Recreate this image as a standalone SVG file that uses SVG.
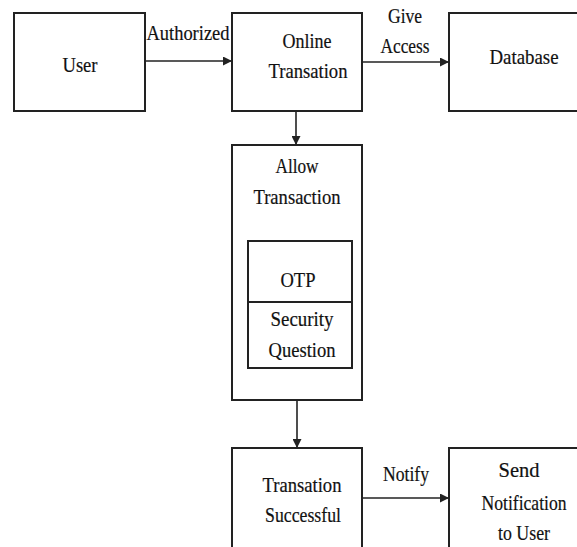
<svg xmlns="http://www.w3.org/2000/svg" width="577" height="547" viewBox="0 0 577 547">
  <style>
    .box { fill: #ffffff; stroke: #222222; stroke-width: 2; }
    .edge { fill: none; stroke: #222222; stroke-width: 1.6; }
    .lbl { font-family: 'Liberation Serif', 'DejaVu Serif', 'Times New Roman', serif; font-size: 21px; fill: #111111; text-anchor: middle; stroke: #111111; stroke-width: 0.2; }
  </style>
  <defs>
    <marker id="arrow" viewBox="0 0 10 10" refX="10" refY="5" markerWidth="9" markerHeight="9" markerUnits="userSpaceOnUse" orient="auto">
      <path d="M0,0 L10,5 L0,10 z" fill="#222222"/>
    </marker>
  </defs>
  <rect width="577" height="547" fill="#ffffff"/>

  <g id="connectors">
    <line class="edge" x1="145" y1="61" x2="232" y2="61" marker-end="url(#arrow)"/>
    <line class="edge" x1="362" y1="62" x2="449" y2="62" marker-end="url(#arrow)"/>
    <line class="edge" x1="296" y1="111" x2="296" y2="145" marker-end="url(#arrow)"/>
    <line class="edge" x1="297" y1="400" x2="297" y2="448" marker-end="url(#arrow)"/>
    <line class="edge" x1="362" y1="498" x2="449" y2="498" marker-end="url(#arrow)"/>
    <text class="lbl" x="188" y="40" textLength="83" lengthAdjust="spacingAndGlyphs">Authorized</text>
    <text class="lbl" x="405" y="23" textLength="34" lengthAdjust="spacingAndGlyphs">Give</text>
    <text class="lbl" x="405" y="53" textLength="49" lengthAdjust="spacingAndGlyphs">Access</text>
    <text class="lbl" x="406" y="481" textLength="46" lengthAdjust="spacingAndGlyphs">Notify</text>
  </g>

  <g id="user">
    <rect class="box" x="14" y="13" width="131" height="98"/>
    <text class="lbl" x="80" y="72" textLength="35" lengthAdjust="spacingAndGlyphs">User</text>
  </g>

  <g id="online-transation">
    <rect class="box" x="232" y="13" width="130" height="98"/>
    <text class="lbl" x="307" y="48" textLength="49" lengthAdjust="spacingAndGlyphs">Online</text>
    <text class="lbl" x="308" y="78" textLength="79" lengthAdjust="spacingAndGlyphs">Transation</text>
  </g>

  <g id="database">
    <rect class="box" x="449" y="13" width="131" height="98"/>
    <text class="lbl" x="524" y="64" textLength="69" lengthAdjust="spacingAndGlyphs">Database</text>
  </g>

  <g id="allow-transaction">
    <rect class="box" x="232" y="145" width="130" height="255"/>
    <text class="lbl" x="297" y="173" textLength="43" lengthAdjust="spacingAndGlyphs">Allow</text>
    <text class="lbl" x="297" y="204" textLength="87" lengthAdjust="spacingAndGlyphs">Transaction</text>
  </g>

  <g id="otp">
    <rect class="box" x="248" y="241" width="104" height="61"/>
    <text class="lbl" x="298" y="287" textLength="35" lengthAdjust="spacingAndGlyphs">OTP</text>
  </g>

  <g id="security-question">
    <rect class="box" x="248" y="302" width="104" height="66"/>
    <text class="lbl" x="302" y="326" textLength="63" lengthAdjust="spacingAndGlyphs">Security</text>
    <text class="lbl" x="302" y="357" textLength="67" lengthAdjust="spacingAndGlyphs">Question</text>
  </g>

  <g id="transation-successful">
    <rect class="box" x="232" y="448" width="130" height="110"/>
    <text class="lbl" x="302" y="492" textLength="79" lengthAdjust="spacingAndGlyphs">Transation</text>
    <text class="lbl" x="303" y="522" textLength="76" lengthAdjust="spacingAndGlyphs">Successful</text>
  </g>

  <g id="send-notification">
    <rect class="box" x="449" y="448" width="131" height="110"/>
    <text class="lbl" x="519" y="477" textLength="41" lengthAdjust="spacingAndGlyphs">Send</text>
    <text class="lbl" x="524" y="510" textLength="85" lengthAdjust="spacingAndGlyphs">Notification</text>
    <text class="lbl" x="524" y="540" textLength="52" lengthAdjust="spacingAndGlyphs">to User</text>
  </g>
</svg>
